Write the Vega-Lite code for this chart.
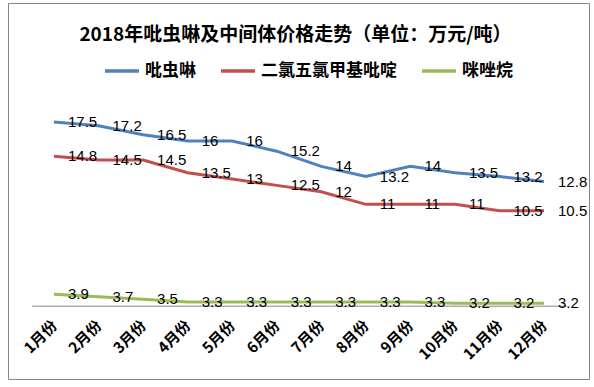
{
  "$schema": "https://vega.github.io/schema/vega-lite/v6.json",
  "width": 581,
  "height": 376,
  "autosize": "none",
  "padding": {"left": 8, "top": 3, "right": 5, "bottom": 8},
  "background": "white",
  "title": {
    "text": "2018年吡虫啉及中间体价格走势（单位：万元/吨）",
    "font": "Noto Sans CJK SC",
    "fontSize": 19,
    "fontWeight": "bold",
    "color": "#000000",
    "anchor": "middle",
    "frame": "group",
    "baseline": "middle",
    "offset": -51,
    "dx": -3
  },
  "config": {
    "view": {"stroke": "#868686", "strokeWidth": 1}
  },
  "data": {
    "values": [
      {"month": "1月份", "series": "吡虫啉", "value": 17.5},
      {"month": "2月份", "series": "吡虫啉", "value": 17.2},
      {"month": "3月份", "series": "吡虫啉", "value": 16.5},
      {"month": "4月份", "series": "吡虫啉", "value": 16},
      {"month": "5月份", "series": "吡虫啉", "value": 16},
      {"month": "6月份", "series": "吡虫啉", "value": 15.2},
      {"month": "7月份", "series": "吡虫啉", "value": 14},
      {"month": "8月份", "series": "吡虫啉", "value": 13.2},
      {"month": "9月份", "series": "吡虫啉", "value": 14},
      {"month": "10月份", "series": "吡虫啉", "value": 13.5},
      {"month": "11月份", "series": "吡虫啉", "value": 13.2},
      {"month": "12月份", "series": "吡虫啉", "value": 12.8},
      {"month": "1月份", "series": "二氯五氯甲基吡啶", "value": 14.8},
      {"month": "2月份", "series": "二氯五氯甲基吡啶", "value": 14.5},
      {"month": "3月份", "series": "二氯五氯甲基吡啶", "value": 14.5},
      {"month": "4月份", "series": "二氯五氯甲基吡啶", "value": 13.5},
      {"month": "5月份", "series": "二氯五氯甲基吡啶", "value": 13},
      {"month": "6月份", "series": "二氯五氯甲基吡啶", "value": 12.5},
      {"month": "7月份", "series": "二氯五氯甲基吡啶", "value": 12},
      {"month": "8月份", "series": "二氯五氯甲基吡啶", "value": 11},
      {"month": "9月份", "series": "二氯五氯甲基吡啶", "value": 11},
      {"month": "10月份", "series": "二氯五氯甲基吡啶", "value": 11},
      {"month": "11月份", "series": "二氯五氯甲基吡啶", "value": 10.5},
      {"month": "12月份", "series": "二氯五氯甲基吡啶", "value": 10.5},
      {"month": "1月份", "series": "咪唑烷", "value": 3.9},
      {"month": "2月份", "series": "咪唑烷", "value": 3.7},
      {"month": "3月份", "series": "咪唑烷", "value": 3.5},
      {"month": "4月份", "series": "咪唑烷", "value": 3.3},
      {"month": "5月份", "series": "咪唑烷", "value": 3.3},
      {"month": "6月份", "series": "咪唑烷", "value": 3.3},
      {"month": "7月份", "series": "咪唑烷", "value": 3.3},
      {"month": "8月份", "series": "咪唑烷", "value": 3.3},
      {"month": "9月份", "series": "咪唑烷", "value": 3.3},
      {"month": "10月份", "series": "咪唑烷", "value": 3.2},
      {"month": "11月份", "series": "咪唑烷", "value": 3.2},
      {"month": "12月份", "series": "咪唑烷", "value": 3.2}
    ]
  },
  "encoding": {
    "x": {
      "field": "month",
      "type": "ordinal",
      "sort": ["1月份", "2月份", "3月份", "4月份", "5月份", "6月份", "7月份", "8月份", "9月份", "10月份", "11月份", "12月份"],
      "scale": {"type": "point", "range": [23.7, 558.3], "padding": 0.5},
      "axis": {
        "title": null,
        "labelAngle": -45,
        "labelAlign": "right",
        "labelBaseline": "middle",
        "labelFont": "Noto Sans CJK SC",
        "labelFontSize": 15,
        "labelFontWeight": "bold",
        "labelColor": "#000000",
        "labelPadding": 17,
        "labelOverlap": false,
        "ticks": false,
        "grid": false,
        "domainColor": "#868686",
        "domainWidth": 1,
        "offset": -73.3
      }
    },
    "y": {
      "field": "value",
      "type": "quantitative",
      "scale": {"domain": [3, 18], "range": [302.7, 112.7], "nice": false, "zero": false},
      "axis": null
    }
  },
  "layer": [
    {
      "mark": {"type": "line", "strokeWidth": 3},
      "encoding": {
        "color": {
          "field": "series",
          "type": "nominal",
          "scale": {
            "domain": ["吡虫啉", "二氯五氯甲基吡啶", "咪唑烷"],
            "range": ["#4F81BD", "#C0504D", "#9BBB59"]
          },
          "legend": {
            "orient": "none",
            "legendX": 95,
            "legendY": 49,
            "direction": "horizontal",
            "title": null,
            "symbolType": "stroke",
            "symbolSize": 1156,
            "symbolStrokeWidth": 3.5,
            "labelFont": "Noto Sans CJK SC",
            "labelFontSize": 17,
            "labelFontWeight": "bold",
            "labelColor": "#000000",
            "labelOffset": 4,
            "columnPadding": 18,
            "padding": 0
          }
        }
      }
    },
    {
      "mark": {"type": "text", "align": "left", "baseline": "middle", "dx": 14, "font": "Liberation Sans", "fontSize": 15, "color": "#000000"},
      "encoding": {
        "text": {"field": "value", "type": "quantitative"},
        "detail": {"field": "series", "type": "nominal"}
      }
    }
  ]
}
